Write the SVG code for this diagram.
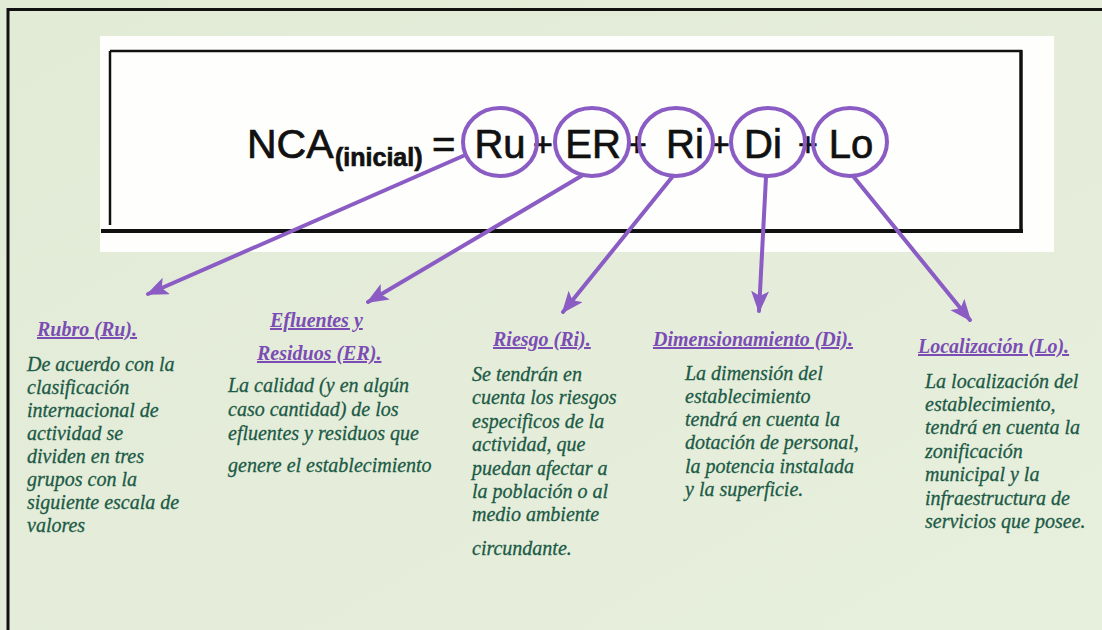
<svg xmlns="http://www.w3.org/2000/svg" width="1102" height="630" viewBox="0 0 1102 630">
  <style>
    .frm { font-family: "Liberation Sans", Arial, sans-serif; fill: #111; stroke: #111; stroke-width: 0.7; }
    .term { fill: none; stroke: #8a5cc4; stroke-width: 4; }
    .conn { fill: none; stroke: #8a5cc4; stroke-width: 4; stroke-linecap: round; }
    .title { font-family: "Liberation Serif", "Times New Roman", serif; font-style: italic; font-weight: bold; font-size: 20px; fill: #7a4cb4; text-decoration: underline; }
    .body { font-family: "Liberation Serif", "Times New Roman", serif; font-style: italic; font-size: 20px; fill: #1c5a46; stroke: #1c5a46; stroke-width: 0.3; }
  </style>
  <defs>
    <linearGradient id="bg" x1="0" y1="0" x2="1" y2="1">
      <stop offset="0" stop-color="#e2ebd6"/>
      <stop offset="1" stop-color="#e7efdd"/>
    </linearGradient>
    <marker id="arr" viewBox="0 0 22 18" refX="20" refY="9" markerWidth="22" markerHeight="18" markerUnits="userSpaceOnUse" orient="auto">
      <path d="M0,0 L22,9 L0,18 L5,9 Z" fill="#8a5cc4"/>
    </marker>
  </defs>

  <!-- background and frame -->
  <rect x="0" y="0" width="1102" height="630" fill="url(#bg)"/>
  <line x1="8" y1="8" x2="8" y2="630" stroke="#111" stroke-width="3"/>
  <line x1="7" y1="9.5" x2="1102" y2="9.5" stroke="#111" stroke-width="3"/>

  <!-- formula panel -->
  <g id="formula">
    <rect x="100" y="36" width="954" height="216" fill="#fefefc"/>
    <line x1="110" y1="51" x2="1022" y2="51" stroke="#111" stroke-width="2.5"/>
    <line x1="110" y1="51" x2="110" y2="225" stroke="#111" stroke-width="2.5"/>
    <line x1="1021" y1="50" x2="1021" y2="232" stroke="#111" stroke-width="3.5"/>
    <line x1="101" y1="231" x2="1023" y2="231" stroke="#111" stroke-width="4"/>
    <text class="frm" x="247" y="158" font-size="41">NCA</text>
    <text class="frm" x="335" y="166" font-size="25" font-weight="bold">(inicial)</text>
    <text class="frm" x="432" y="158" font-size="40">=</text>
    <text class="frm" x="543" y="156" font-size="34" text-anchor="middle">+</text>
    <text class="frm" x="637" y="156" font-size="34" text-anchor="middle">+</text>
    <text class="frm" x="720" y="156" font-size="34" text-anchor="middle">+</text>
    <text class="frm" x="808" y="156" font-size="34" text-anchor="middle">+</text>
  </g>

  <g id="term-ru">
    <ellipse class="term" cx="500" cy="142" rx="37" ry="34"/>
    <text class="frm" x="500" y="158" font-size="40" text-anchor="middle">Ru</text>
  </g>
  <g id="term-er">
    <ellipse class="term" cx="592" cy="142" rx="37" ry="34"/>
    <text class="frm" x="593" y="158" font-size="40" text-anchor="middle">ER</text>
  </g>
  <g id="term-ri">
    <ellipse class="term" cx="676" cy="142" rx="37" ry="34"/>
    <text class="frm" x="685" y="158" font-size="40" text-anchor="middle">Ri</text>
  </g>
  <g id="term-di">
    <ellipse class="term" cx="768" cy="142" rx="37" ry="34"/>
    <text class="frm" x="763" y="158" font-size="40" text-anchor="middle">Di</text>
  </g>
  <g id="term-lo">
    <ellipse class="term" cx="850" cy="142" rx="37" ry="34"/>
    <text class="frm" x="851" y="158" font-size="40" text-anchor="middle">Lo</text>
  </g>

  <!-- connectors -->
  <g id="connectors">
    <line class="conn" x1="463" y1="156" x2="148" y2="294" marker-end="url(#arr)"/>
    <line class="conn" x1="583" y1="175" x2="368" y2="302" marker-end="url(#arr)"/>
    <line class="conn" x1="673" y1="176" x2="563" y2="312" marker-end="url(#arr)"/>
    <line class="conn" x1="766" y1="177" x2="759" y2="311" marker-end="url(#arr)"/>
    <line class="conn" x1="853" y1="176" x2="970" y2="320" marker-end="url(#arr)"/>
  </g>

  <!-- descriptions -->
  <g id="desc-ru">
    <text class="title" x="37" y="336">Rubro (Ru).</text>
    <text class="body" x="27" y="371">De acuerdo con la</text>
    <text class="body" x="27" y="394">clasificación</text>
    <text class="body" x="27" y="417">internacional de</text>
    <text class="body" x="27" y="440">actividad se</text>
    <text class="body" x="27" y="463">dividen en tres</text>
    <text class="body" x="27" y="486">grupos con la</text>
    <text class="body" x="27" y="509">siguiente escala de</text>
    <text class="body" x="27" y="532">valores</text>
  </g>
  <g id="desc-er">
    <text class="title" x="270" y="327">Efluentes y</text>
    <text class="title" x="257" y="360">Residuos (ER).</text>
    <text class="body" x="228" y="392">La calidad (y en algún</text>
    <text class="body" x="228" y="416">caso cantidad) de los</text>
    <text class="body" x="228" y="440">efluentes y residuos que</text>
    <text class="body" x="228" y="472">genere el establecimiento</text>
  </g>
  <g id="desc-ri">
    <text class="title" x="493" y="346">Riesgo (Ri).</text>
    <text class="body" x="472" y="381">Se tendrán en</text>
    <text class="body" x="472" y="404">cuenta los riesgos</text>
    <text class="body" x="472" y="428">especificos de la</text>
    <text class="body" x="472" y="451">actividad, que</text>
    <text class="body" x="472" y="475">puedan afectar a</text>
    <text class="body" x="472" y="498">la población o al</text>
    <text class="body" x="472" y="521">medio ambiente</text>
    <text class="body" x="472" y="555">circundante.</text>
  </g>
  <g id="desc-di">
    <text class="title" x="653" y="346">Dimensionamiento (Di).</text>
    <text class="body" x="685" y="380">La dimensión del</text>
    <text class="body" x="685" y="403">establecimiento</text>
    <text class="body" x="685" y="426">tendrá en cuenta la</text>
    <text class="body" x="685" y="449">dotación de personal,</text>
    <text class="body" x="685" y="473">la potencia instalada</text>
    <text class="body" x="685" y="496">y la superficie.</text>
  </g>
  <g id="desc-lo">
    <text class="title" x="918" y="353">Localización (Lo).</text>
    <text class="body" x="925" y="388">La localización del</text>
    <text class="body" x="925" y="411">establecimiento,</text>
    <text class="body" x="925" y="434">tendrá en cuenta la</text>
    <text class="body" x="925" y="458">zonificación</text>
    <text class="body" x="925" y="481">municipal y la</text>
    <text class="body" x="925" y="505">infraestructura de</text>
    <text class="body" x="925" y="528">servicios que posee.</text>
  </g>
</svg>
